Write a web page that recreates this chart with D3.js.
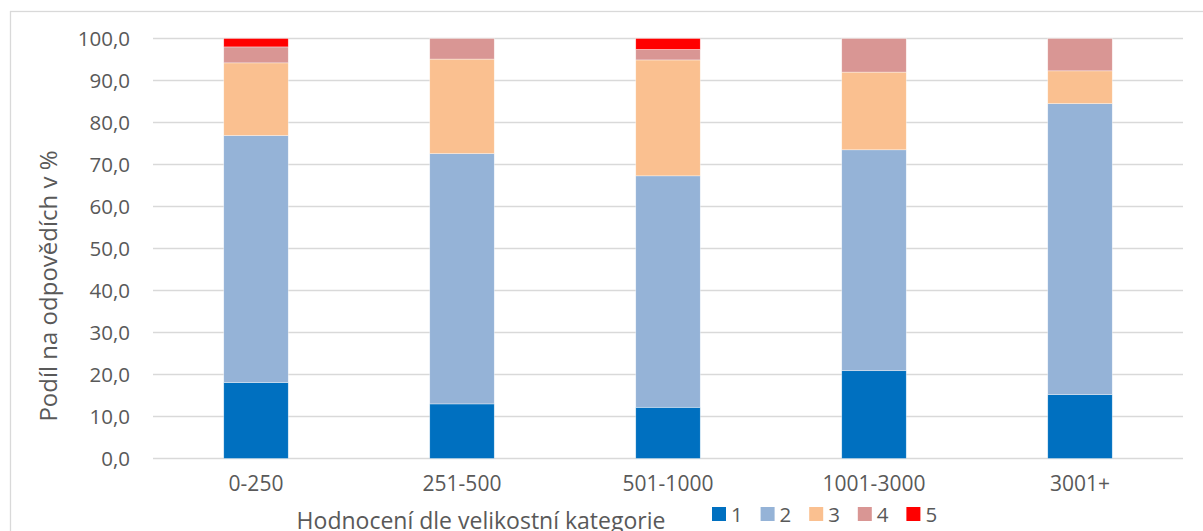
<!DOCTYPE html>
<html>
<head>
<meta charset="utf-8">
<script src="https://cdn.jsdelivr.net/npm/d3@7"></script>
<style>
  html, body { margin: 0; padding: 0; background: #fff; }
  svg { display: block; }
  text { font-family: "Open Sans", "Noto Sans", sans-serif; fill: #595959; }
</style>
</head>
<body>
<svg id="chart" width="1203" height="531"></svg>
<script>
// ---- data ----
const categories = ["0-250", "251-500", "501-1000", "1001-3000", "3001+"];
const seriesNames = ["1", "2", "3", "4", "5"];
const s1 = [18.1, 13.0, 12.2, 20.9, 15.2];
const s2 = [58.8, 59.6, 55.1, 52.6, 69.3];
const s3 = [17.3, 22.5, 27.6, 18.5, 7.8];
const s4 = [3.8, 4.9, 2.5, 8.0, 7.7];
const s5 = [2.0, 0.0, 2.6, 0.0, 0.0];
const yTicks = [0, 10, 20, 30, 40, 50, 60, 70, 80, 90, 100];
const colors = ["#0070C0", "#95B3D7", "#FAC090", "#D99694", "#FF0000"];
const xTitle = "Hodnocení dle velikostní kategorie";
const yTitle = "Podíl na odpovědích v %";

const seriesValues = [s1, s2, s3, s4, s5];
const table = categories.map((c, i) => {
  const row = { cat: c };
  seriesNames.forEach((s, j) => row[s] = seriesValues[j][i]);
  return row;
});

const svg = d3.select("#chart");

// outer chart border
svg.append("rect")
  .attr("x", 10.5).attr("y", 11.5)
  .attr("width", 1203).attr("height", 540)
  .attr("fill", "none").attr("stroke", "#d9d9d9").attr("stroke-width", 1.3);

const plotL = 153, plotR = 1183, plotT = 38.5, plotB = 458.5;

const x = d3.scaleBand().domain(categories).range([plotL, plotR])
  .paddingInner(0.687).paddingOuter(0.3435);
const y = d3.scaleLinear().domain([0, 100]).range([plotB, plotT]);

// gridlines
svg.append("g").selectAll("line").data(yTicks).join("line")
  .attr("x1", plotL).attr("x2", plotR)
  .attr("y1", d => y(d)).attr("y2", d => y(d))
  .attr("stroke", "#d9d9d9").attr("stroke-width", 1.5);

// y axis labels
const yAxis = d3.axisLeft(y).tickValues(yTicks)
  .tickFormat(d => d3.format(".1f")(d).replace(".", ","))
  .tickSize(0).tickPadding(0);
const gy = svg.append("g").attr("transform", `translate(${130},0)`).call(yAxis);
gy.select(".domain").remove();
gy.selectAll("text").attr("font-size", 20.5).attr("fill", "#595959")
  .style("font-family", '"Open Sans", sans-serif');

// x axis labels
const xAxis = d3.axisBottom(x).tickSize(0).tickPadding(0);
const gx = svg.append("g").attr("transform", `translate(0,${476})`).call(xAxis);
gx.select(".domain").remove();
gx.selectAll("text").attr("font-size", 21).attr("fill", "#595959")
  .style("font-family", '"Open Sans", sans-serif');

// stacked bars
const stack = d3.stack().keys(seriesNames);
const stacked = stack(table);
svg.append("g").selectAll("g").data(stacked).join("g")
  .attr("fill", (d, i) => colors[i])
  .selectAll("rect").data(d => d).join("rect")
  .attr("x", d => x(d.data.cat))
  .attr("width", x.bandwidth())
  .attr("y", d => y(d[1]))
  .attr("height", d => Math.max(0, y(d[0]) - y(d[1])))
  .attr("stroke", "#ffffff").attr("stroke-width", 0.6).attr("stroke-opacity", 0.6);

// y title
svg.append("text")
  .attr("transform", `translate(57,${286}) rotate(-90)`)
  .attr("text-anchor", "middle")
  .attr("font-size", 24)
  .text(yTitle);

// x title
svg.append("text")
  .attr("x", 481).attr("y", 529)
  .attr("text-anchor", "middle")
  .attr("font-size", 23)
  .text(xTitle);

// legend
const legend = svg.append("g").attr("transform", "translate(712,507)");
const li = legend.selectAll("g").data(seriesNames).join("g")
  .attr("transform", (d, i) => `translate(${i * 48.6},0)`);
li.append("rect").attr("width", 14).attr("height", 14).attr("fill", (d, i) => colors[i]);
li.append("text").attr("x", 19).attr("y", 14.5).attr("font-size", 20.5).text(d => d);
</script>
</body>
</html>
